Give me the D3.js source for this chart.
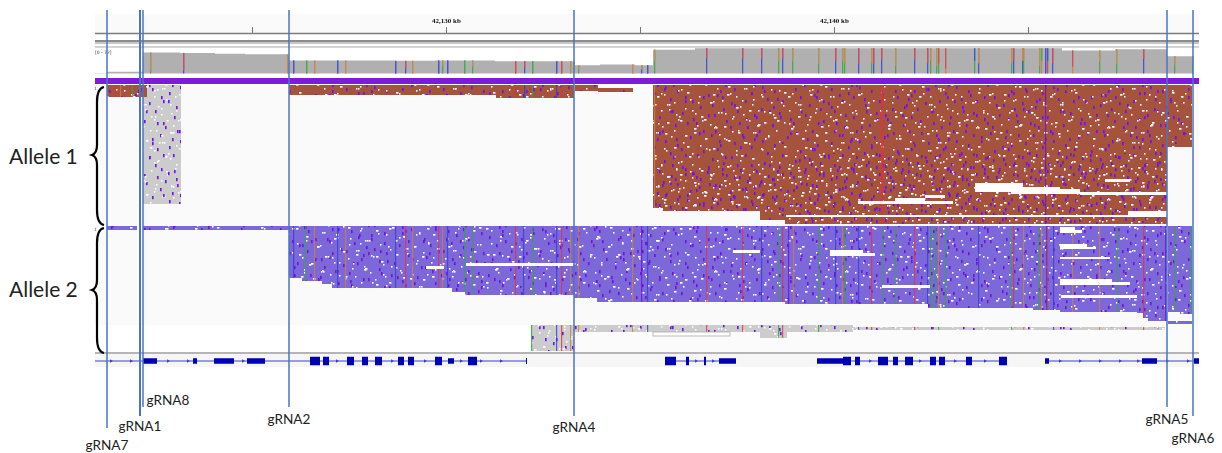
<!DOCTYPE html>
<html>
<head>
<meta charset="utf-8">
<script src="https://cdn.jsdelivr.net/npm/d3@7"></script>
<style>
  html, body { margin: 0; padding: 0; background: #fff; }
  svg { display: block; }
</style>
</head>
<body>
<div id="chart"></div>
<script>
// all positions are browser window bins (about 26 bp each), rows are read rows in the pileup
const windowBins = 1104;
const rulerTicks = [157, 351, 545, 739, 933];
const rulerLabels = ["", "42,130 kb", "", "42,140 kb", ""];
const coverageRange = "[0 - 72]";

// step coverage: bin where the level starts, read count
const coverageBins = [0, 12, 48, 85, 120, 150, 193, 194, 250, 300, 340, 400, 480, 505, 540, 558, 600, 960, 967, 1020, 1072, 1098];
const coverageCounts = [1, 5, 58, 57, 55, 53, 47, 36, 36, 35, 36, 34, 23, 25, 23, 66, 70, 70, 64, 67, 48, 48];

// mismatch bars on coverage: bin, upper base, lower base, upper fraction
const coverageSnps = [
  [55, "G", "A", .85], [88, "T", "C", .85], [192, "G", "G", 1], [198, "C", "C", 1], [211, "A", "A", 1], [219, "G", "G", 1],
  [242, "C", "C", 1], [250, "G", "G", 1], [300, "C", "C", 1], [310, "T", "C", .6], [317, "G", "G", 1], [343, "C", "C", 1],
  [347, "G", "A", .4], [352, "C", "C", 1], [369, "A", "A", 1], [377, "G", "A", .5], [420, "T", "T", 1], [429, "T", "C", .5],
  [437, "A", "A", 1], [461, "C", "C", 1], [466, "T", "T", 1], [475, "G", "G", 1], [483, "G", "A", .6], [537, "G", "G", 1],
  [546, "G", "C", .5], [552, "C", "C", 1], [559, "G", "A", .5], [611, "T", "C", .4], [647, "T", "C", .4], [666, "T", "C", .4],
  [683, "G", "A", .5], [687, "T", "C", .4], [697, "G", "A", .5], [723, "G", "A", .6], [740, "T", "C", .5], [747, "G", "A", .5],
  [749, "G", "A", .6], [763, "T", "C", .6], [776, "G", "A", .6], [778, "T", "C", .6], [786, "T", "C", .45], [800, "G", "A", .7],
  [819, "T", "C", .45], [832, "T", "C", .6], [835, "G", "A", .5], [841, "G", "A", .7], [843, "T", "A", .6], [850, "T", "G", .8],
  [879, "C", "A", .5], [883, "G", "C", .6], [916, "G", "A", .6], [918, "T", "C", .5], [927, "G", "C", .5], [928, "G", "A", .5],
  [944, "G", "A", .7], [946, "A", "G", .5], [950, "C", "C", 1], [952, "C", "T", .5], [957, "T", "C", .6], [977, "T", "G", .7],
  [1004, "G", "A", .5], [1021, "G", "A", .6], [1048, "T", "C", .4], [1079, "G", "A", .5], [1097, "G", "A", .5]
];

// read blocks: start bin, end bin, first row, last row
const allele1Blocks = [
  [12, 52, 0, 6], [194, 401, 0, 5], [401, 479, 0, 6.5], [480, 503, 0, 3], [503, 538, 1.5, 3.5],
  [558, 568, 0, 61.5], [568, 665, 0, 63], [665, 690, 0, 67.5], [690, 1072, 0, 69.5], [1072, 1097, 0, 31]
];
const allele1Unmatched = [[48, 86, 0, 59.5]];
// the deeper rows of allele 1 carry more clips and insertions
const allele1DenseRows = [[558, 700, 42, 63], [700, 1072, 34, 69]];
const allele1Gaps = [
  [880, 928, 49, 53.5], [916, 965, 51, 54.5], [965, 985, 52, 54.5], [985, 1072, 53.5, 55], [1010, 1035, 47, 48.5],
  [830, 850, 55, 56.5], [800, 830, 56.5, 58], [763, 858, 58, 59.5], [691, 1072, 65, 66], [1033, 1072, 63, 66]
];
const allele1Columns = [[20, "T"], [25, "G"], [37, "A"], [420, "T"], [429, "C"], [437, "A"], [461, "C"], [466, "T"], [559, "G"], [786, "T"], [787, "T"], [950, "I"]];

const allele2Blocks = [
  [12, 42, 0, 2], [48, 194, 0, 2], [194, 207, 0, 26], [207, 227, 0, 27.5], [227, 237, 0, 29], [237, 357, 0, 31],
  [357, 370, 0, 33], [370, 479, 0, 34.5], [479, 502, 0, 36], [502, 690, 0, 38], [690, 833, 0, 39], [833, 938, 0, 41],
  [938, 965, 0, 42], [965, 1042, 0, 43], [1042, 1048, 0, 43.5], [1048, 1053, 0, 46], [1053, 1072, 0, 47.5],
  [1073, 1085, 0, 43], [1085, 1097, 0, 44], [1073, 1097, 47.5, 49]
];
const allele2Gaps = [
  [331, 349, 20, 21.5], [371, 478, 18.5, 20], [638, 665, 12, 13.5], [735, 768, 12, 15], [768, 780, 13.5, 15],
  [787, 835, 29.5, 31], [965, 980, .5, 3.5], [980, 987, 2, 3.5], [965, 992, 9, 11.5], [992, 1001, 10.5, 11.5],
  [965, 1015, 15.5, 16.5], [965, 1017, 26.5, 29.5], [1017, 1035, 28, 29.5], [966, 1042, 34.5, 36]
];
const allele2Columns = [
  [198, "C"], [210, "A"], [219, "G"], [242, "C"], [250, "G"], [300, "C"], [310, "T"], [317, "G"], [343, "T"], [347, "G"],
  [352, "C"], [369, "A"], [377, "A"], [420, "T"], [428, "C"], [437, "A"], [461, "C"], [466, "T"], [475, "G"], [483, "G"],
  [537, "G"], [546, "I"], [552, "C"], [611, "T"], [647, "T"], [666, "C"], [683, "A"], [687, "T"], [693, "I"], [698, "G"],
  [723, "A"], [740, "C"], [747, "G"], [749, "A"], [763, "C"], [776, "T"], [787, "A"], [800, "A"], [819, "T"], [832, "C"],
  [835, "A"], [840, "A"], [843, "G"], [850, "A"], [883, "C"], [916, "A"], [918, "T"], [928, "G"], [943, "A"], [946, "G"],
  [951, "C"], [952, "T"], [958, "C"], [977, "G"], [1004, "G"], [1022, "A"], [1048, "T"], [1070, "I"], [1079, "A"], [1096, "A"]
];

// reads under allele 2 that assign to neither allele
const otherBlocks = [[436, 479, 49.5, 62.5], [479, 758, 49.5, 53], [758, 1070, 50.5, 52], [665, 692, 53, 56]];
const otherOutlined = [[558, 635, 53, 55]];
const otherColumns = [[436, "A"], [461, "C"], [466, "T"], [475, "G"], [483, "G"], [537, "G"], [552, "C"], [611, "T"], [647, "T"], [683, "A"], [687, "T"], [723, "A"], [763, "C"], [776, "T"], [819, "T"], [843, "A"], [916, "A"], [928, "G"], [958, "C"], [1004, "G"], [1048, "T"]];

// insertion and soft clip speckle read by eye off a patch of the pileup: bin, row
const speckleTileA = [97, 27];
const purpleA = [[3, 2], [11, 14], [17, 7], [24, 21], [29, 3], [36, 11], [41, 18], [47, 6], [52, 24], [58, 1], [63, 13], [68, 9], [72, 19], [77, 4], [83, 16], [88, 22], [93, 8], [6, 23], [20, 12], [33, 25], [44, 0], [55, 17], [66, 23], [80, 11], [90, 1], [14, 5], [38, 20], [60, 7], [75, 15], [95, 18]];
const whiteA = [[1, 6], [2, 6], [8, 19], [9, 19], [13, 1], [15, 10], [16, 10], [19, 24], [22, 4], [23, 4], [26, 15], [27, 15], [31, 8], [34, 20], [35, 20], [39, 2], [40, 13], [43, 23], [45, 9], [46, 9], [49, 16], [50, 16], [54, 4], [57, 21], [59, 11], [61, 26], [64, 3], [65, 17], [67, 17], [70, 6], [73, 25], [74, 12], [76, 12], [79, 1], [82, 20], [85, 7], [86, 7], [89, 14], [92, 24], [94, 3]];
const speckleTileB = [131, 36];
const purpleB = [[4, 30], [9, 8], [15, 19], [21, 33], [26, 2], [32, 25], [37, 14], [42, 5], [48, 29], [53, 11], [59, 21], [64, 34], [70, 6], [75, 27], [79, 16], [85, 1], [91, 23], [96, 10], [101, 31], [106, 18], [112, 4], [117, 26], [122, 13], [127, 35], [18, 6], [45, 17], [67, 12], [88, 32], [109, 9], [125, 22], [30, 12], [56, 31], [99, 21], [118, 17]];
const whiteB = [[2, 12], [3, 12], [7, 27], [11, 3], [12, 16], [14, 16], [19, 29], [23, 9], [24, 22], [28, 35], [30, 18], [34, 6], [35, 6], [39, 30], [40, 30], [44, 12], [47, 24], [51, 2], [55, 15], [56, 15], [60, 27], [62, 8], [66, 20], [69, 33], [72, 11], [73, 11], [77, 23], [81, 5], [83, 30], [84, 30], [87, 14], [90, 35], [94, 19], [95, 19], [98, 7], [103, 26], [104, 26], [107, 12], [110, 33], [114, 20], [115, 20], [119, 2], [121, 29], [124, 9], [126, 15], [129, 25]];

// gene model
const geneSpans = [[0, 431], [570, 641], [722, 912], [950, 1104]];
const geneEndTicks = [431];
const exonStarts = [48, 98, 119, 152, 215, 228, 252, 267, 280, 303, 313, 340, 353, 373, 570, 591, 609, 624, 722, 748, 760, 783, 798, 810, 835, 844, 871, 904, 950, 1047, 1099];
const exonEnds = [62, 102, 139, 170, 225, 234, 259, 273, 287, 309, 319, 347, 359, 382, 581, 594, 611, 641, 748, 756, 765, 793, 803, 818, 841, 850, 877, 912, 954, 1062, 1104];
const exonKinds = ["utr", "utr", "utr", "utr", "cds", "cds", "cds", "cds", "cds", "cds", "cds", "cds", "utr", "cds", "cds", "cds", "cds", "utr", "utr", "cds", "cds", "cds", "cds", "cds", "cds", "cds", "cds", "cds", "utr", "utr", "utr"];
const intronArrows = [16, 36, 73, 93, 148, 242, 297, 330, 366, 386, 406, 601, 618, 775, 825, 860, 890, 965, 985, 1005, 1025, 1043, 1072, 1093];

const gRNANames = ["gRNA7", "gRNA1", "gRNA8", "gRNA2", "gRNA4", "gRNA5", "gRNA6"];
const gRNABins = [12, 45, 48, 194, 479, 1072, 1098];

const alleleNames = ["Allele 1", "Allele 2"];

// ---- layout
const width = 1222;
const height = 453;
const trackLeft = 95;
const trackRight = 1199;
const gRNALayout = {
  gRNA7: { end: 428, labelY: 445, dx: 0 },
  gRNA1: { end: 416, labelY: 426, dx: 0 },
  gRNA8: { end: 407, labelY: 400, dx: 25 },
  gRNA2: { end: 407, labelY: 419, dx: 0 },
  gRNA4: { end: 416, labelY: 427, dx: 0 },
  gRNA5: { end: 407, labelY: 419, dx: 0 },
  gRNA6: { end: 416, labelY: 438, dx: 0 },
};

const x = d3.scaleLinear().domain([0, windowBins]).range([trackLeft, trackRight]);
const yCoverage = d3.scaleLinear().domain([0, 72]).range([73.5, 47.5]);
const yAllele1 = d3.scaleLinear().domain([0, 70]).range([85, 225]);
const yAllele2 = d3.scaleLinear().domain([0, 63]).range([226, 352]);

const baseColor = d3.scaleOrdinal()
  .domain(["A", "C", "G", "T", "I"])
  .range(["#2fa83c", "#2f3fd8", "#c9803f", "#e0333f", "#7012d6"]);

const svg = d3
  .select("#chart")
  .append("svg")
  .attr("width", width)
  .attr("height", height)
  .attr("viewBox", [0, 0, width, height]);

// the screenshot is soft, so the tracks get a light blur
const defs = svg.append("defs");
defs.append("filter").attr("id", "soft")
  .attr("x", "-2%").attr("y", "-2%").attr("width", "104%").attr("height", "104%")
  .append("feGaussianBlur").attr("stdDeviation", 0.4);

const addSpeckle = (id, tile, purple, white, shift) => {
  const binW = x(1) - x(0);
  const rowH = yAllele1(1) - yAllele1(0);
  const pattern = defs.append("pattern")
    .attr("id", id)
    .attr("patternUnits", "userSpaceOnUse")
    .attr("patternTransform", `translate(${shift[0]}, ${shift[1]})`)
    .attr("width", tile[0] * binW)
    .attr("height", tile[1] * rowH);
  pattern.selectAll(".w").data(white).enter().append("rect")
    .attr("x", (d) => d[0] * binW)
    .attr("y", (d) => d[1] * rowH)
    .attr("width", 1.5)
    .attr("height", 1.6)
    .attr("fill", "#fff");
  pattern.selectAll(".p").data(purple).enter().append("rect")
    .attr("x", (d) => d[0] * binW)
    .attr("y", (d) => d[1] * rowH)
    .attr("width", 1.6)
    .attr("height", 3.2)
    .attr("fill", "#6f12d8");
};
addSpeckle("speckleA", speckleTileA, purpleA, whiteA, [0, 0]);
addSpeckle("speckleB", speckleTileB, purpleB, whiteB, [0, 0]);
addSpeckle("speckleC", speckleTileB, [], whiteB, [47, 23]);
addSpeckle("speckleD", speckleTileA, purpleA, whiteA, [37, 19]);

// ---- panel backgrounds
svg.append("rect").attr("x", trackLeft).attr("y", 14).attr("width", trackRight - trackLeft).attr("height", 19).attr("fill", "#fafafa");
svg.append("rect").attr("x", trackLeft).attr("y", 85).attr("width", trackRight - trackLeft).attr("height", 240).attr("fill", "#fafafa");
svg.append("rect").attr("x", 530).attr("y", 325).attr("width", trackRight - 530).attr("height", 27).attr("fill", "#fbfbfb");
svg.append("rect").attr("x", trackLeft).attr("y", 354).attr("width", trackRight - trackLeft).attr("height", 13).attr("fill", "#f6f6f6");

const tracks = svg.append("g").attr("filter", "url(#soft)");

// ---- ruler
const ruler = tracks.append("g")
  .attr("transform", "translate(0, 33)")
  .call(d3.axisTop(x).tickValues(rulerTicks).tickSize(6).tickPadding(4).tickFormat((d, i) => rulerLabels[i]));
ruler.select(".domain").remove();
ruler.selectAll("line").attr("stroke", "#777");
ruler.selectAll("text")
  .attr("fill", "#111")
  .style("font-family", "'Liberation Serif', serif")
  .style("font-weight", "bold")
  .style("font-size", "7px");

[[33.5, "#7d7d7d", 1.4], [41, "#666", 1.4], [43, "#8e8e8e", 1.2], [47, "#aaa", 1.2]].forEach((r) => {
  tracks.append("line")
    .attr("x1", trackLeft).attr("x2", trackRight)
    .attr("y1", r[0]).attr("y2", r[0])
    .attr("stroke", r[1]).attr("stroke-width", r[2]);
});

// ---- coverage
const coverageAt = (bin) => coverageCounts[Math.max(0, d3.bisectRight(coverageBins, bin) - 1)];

tracks.append("path")
  .datum(coverageBins.map((d, i) => [d, coverageCounts[i]]))
  .attr("fill", "#b0b0b0")
  .attr("d", d3.area()
    .curve(d3.curveStepAfter)
    .x((d) => x(d[0]))
    .y0(yCoverage(0))
    .y1((d) => yCoverage(d[1])));

const snpGroups = tracks.selectAll(".snp").data(coverageSnps).enter().append("g").attr("opacity", 0.8);
snpGroups.append("rect")
  .attr("x", (d) => x(d[0]))
  .attr("width", 1.3)
  .attr("y", (d) => yCoverage(coverageAt(d[0])))
  .attr("height", (d) => yCoverage(0) - yCoverage(coverageAt(d[0])))
  .attr("fill", (d) => baseColor(d[2]));
snpGroups.append("rect")
  .attr("x", (d) => x(d[0]))
  .attr("width", 1.3)
  .attr("y", (d) => yCoverage(coverageAt(d[0])))
  .attr("height", (d) => (yCoverage(0) - yCoverage(coverageAt(d[0]))) * d[3])
  .attr("fill", (d) => baseColor(d[1]));

tracks.append("text")
  .attr("x", trackLeft)
  .attr("y", 54)
  .attr("fill", "#444")
  .style("font-family", "'DejaVu Sans', sans-serif")
  .style("font-size", "4.5px")
  .text(coverageRange);

// purple band of the junction track
tracks.append("rect")
  .attr("x", trackLeft).attr("y", 78)
  .attr("width", trackRight - trackLeft).attr("height", 6)
  .attr("fill", "#7a1bd8");

// ---- read pileups
const blockRects = (parent, blocks, y, fill) => {
  parent.append("g").selectAll("rect").data(blocks).enter().append("rect")
    .attr("x", (d) => x(d[0]))
    .attr("width", (d) => x(d[1]) - x(d[0]))
    .attr("y", (d) => y(d[2]))
    .attr("height", (d) => y(d[3]) - y(d[2]))
    .attr("fill", fill);
};

const drawBlocks = (parent, blocks, y, fill) => {
  [fill, "url(#speckleA)", "url(#speckleB)", "url(#speckleC)"].forEach((f) => blockRects(parent, blocks, y, f));
};

const drawColumns = (parent, columns, blocks, y) => {
  const rows = [];
  columns.forEach((c) => {
    blocks.filter((b) => b[0] <= c[0] && c[0] < b[1]).forEach((b) => rows.push({ bin: c[0], base: c[1], b }));
  });
  parent.append("g").selectAll("rect").data(rows).enter().append("rect")
    .attr("x", (d) => x(d.bin))
    .attr("width", 1.2)
    .attr("y", (d) => y(d.b[2]))
    .attr("height", (d) => y(d.b[3]) - y(d.b[2]))
    .attr("fill", (d) => baseColor(d.base))
    .attr("opacity", 0.8);
};

drawBlocks(tracks, allele1Unmatched, yAllele1, "#cccccc");
drawBlocks(tracks, allele1Blocks, yAllele1, "#a6523c");
blockRects(tracks, allele1DenseRows, yAllele1, "url(#speckleD)");
drawColumns(tracks, allele1Columns, allele1Blocks, yAllele1);
blockRects(tracks, allele1Gaps, yAllele1, "#fff");

drawBlocks(tracks, allele2Blocks, yAllele2, "#7c68d9");
drawColumns(tracks, allele2Columns, allele2Blocks, yAllele2);
blockRects(tracks, allele2Gaps, yAllele2, "#fff");

drawBlocks(tracks, otherBlocks, yAllele2, "#cccccc");
drawColumns(tracks, otherColumns, otherBlocks, yAllele2);
tracks.append("g").selectAll("rect").data(otherOutlined).enter().append("rect")
  .attr("x", (d) => x(d[0]))
  .attr("width", (d) => x(d[1]) - x(d[0]))
  .attr("y", (d) => yAllele2(d[2]))
  .attr("height", (d) => yAllele2(d[3]) - yAllele2(d[2]))
  .attr("fill", "#fff")
  .attr("stroke", "#aaa")
  .attr("stroke-width", 0.8);

[[yAllele1(0) + 5, "1"], [yAllele2(0) + 5, "1"]].forEach((t) => {
  tracks.append("text")
    .attr("x", trackLeft - 1)
    .attr("y", t[0])
    .attr("fill", "#555")
    .style("font-family", "'DejaVu Sans', sans-serif")
    .style("font-size", "4.5px")
    .text(t[1]);
});

// ---- gene track
const geneY = 361;
const exonHeight = d3.scaleOrdinal().domain(["utr", "cds"]).range([5.5, 8.5]);

tracks.append("line")
  .attr("x1", trackLeft).attr("x2", trackRight)
  .attr("y1", 353).attr("y2", 353)
  .attr("stroke", "#6d6d6d").attr("stroke-width", 1.2);

tracks.append("g").selectAll("line").data(geneSpans).enter().append("line")
  .attr("x1", (d) => x(d[0]))
  .attr("x2", (d) => x(d[1]))
  .attr("y1", geneY).attr("y2", geneY)
  .attr("stroke", "#3d3dd6").attr("stroke-width", 1);

tracks.append("g").selectAll("path").data(intronArrows).enter().append("path")
  .attr("d", d3.symbol().type(d3.symbolTriangle).size(5))
  .attr("transform", (d) => `translate(${x(d)}, ${geneY}) rotate(90)`)
  .attr("fill", "#3d3dd6");

tracks.append("g").selectAll("rect").data(geneEndTicks).enter().append("rect")
  .attr("x", (d) => x(d))
  .attr("y", geneY - 3)
  .attr("width", 1)
  .attr("height", 6)
  .attr("fill", "#0000b4");

tracks.append("g").selectAll("rect").data(exonStarts).enter().append("rect")
  .attr("x", (d) => x(d))
  .attr("width", (d, i) => x(exonEnds[i]) - x(d))
  .attr("y", (d, i) => geneY - exonHeight(exonKinds[i]) / 2)
  .attr("height", (d, i) => exonHeight(exonKinds[i]))
  .attr("fill", "#0000b4");

// ---- allele braces and names
const bracePath = (y0, yMid, y1) => {
  const p = d3.path();
  p.moveTo(104, y0);
  p.bezierCurveTo(99, y0 + 1, 97, y0 + 6, 97, y0 + 15);
  p.lineTo(97, yMid - 10);
  p.bezierCurveTo(97, yMid - 4, 95, yMid - 1, 92, yMid);
  p.bezierCurveTo(95, yMid + 1, 97, yMid + 4, 97, yMid + 10);
  p.lineTo(97, y1 - 15);
  p.bezierCurveTo(97, y1 - 6, 99, y1 - 1, 104, y1);
  return p.toString();
};

svg.selectAll(".brace").data([[87, 155, 225], [228, 290, 353]]).enter().append("path")
  .attr("d", (d) => bracePath(d[0], d[1], d[2]))
  .attr("fill", "none")
  .attr("stroke", "#000")
  .attr("stroke-width", 2.2);

svg.selectAll(".allele").data(alleleNames).enter().append("text")
  .attr("x", 9)
  .attr("y", (d, i) => [157, 290][i])
  .attr("dy", "0.35em")
  .attr("fill", "#222")
  .style("font-family", "Lato, sans-serif")
  .style("font-size", "21px")
  .text((d) => d);

// ---- gRNA cut sites
svg.selectAll(".grna-line").data(gRNANames).enter().append("line")
  .attr("x1", (d, i) => x(gRNABins[i]))
  .attr("x2", (d, i) => x(gRNABins[i]))
  .attr("y1", 10)
  .attr("y2", (d) => gRNALayout[d].end)
  .attr("stroke", "#4a74c4")
  .attr("stroke-width", (d) => (d === "gRNA1" ? 2 : 1.5));

svg.selectAll(".grna-label").data(gRNANames).enter().append("text")
  .attr("x", (d, i) => x(gRNABins[i]) + gRNALayout[d].dx)
  .attr("y", (d) => gRNALayout[d].labelY)
  .attr("dy", "0.35em")
  .attr("text-anchor", "middle")
  .attr("fill", "#222")
  .style("font-family", "Lato, sans-serif")
  .style("font-size", "13.6px")
  .text((d) => d);
</script>
</body>
</html>
